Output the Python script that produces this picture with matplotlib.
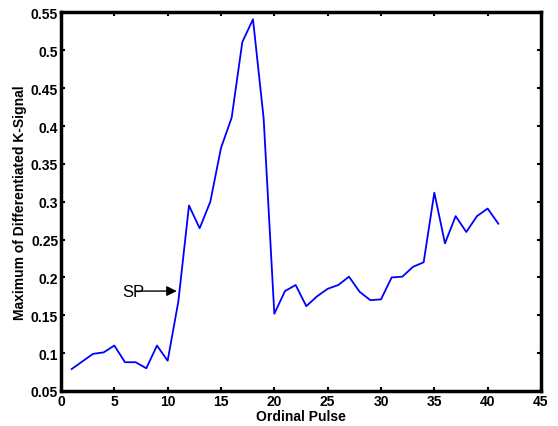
import matplotlib
matplotlib.use("Agg")
import matplotlib.pyplot as plt

# Maximum of differentiated K-signal per ordinal pulse
pulse = list(range(1, 42))
k_max = [0.079, 0.089, 0.099, 0.101, 0.110, 0.088, 0.088, 0.080, 0.110, 0.090,
         0.168, 0.295, 0.265, 0.300, 0.371, 0.411, 0.511, 0.541, 0.410, 0.152,
         0.182, 0.190, 0.162, 0.175, 0.185, 0.190, 0.201, 0.181, 0.170, 0.171,
         0.200, 0.201, 0.214, 0.220, 0.312, 0.245, 0.281, 0.260, 0.281, 0.291,
         0.271]

xticks = [0, 5, 10, 15, 20, 25, 30, 35, 40, 45]
yticks = [0.05, 0.1, 0.15, 0.2, 0.25, 0.3, 0.35, 0.4, 0.45, 0.5, 0.55]
ytick_labels = ["0.05", "0.1", "0.15", "0.2", "0.25", "0.3", "0.35", "0.4",
                "0.45", "0.5", "0.55"]

plt.rcParams['font.family'] = ['Liberation Sans', 'DejaVu Sans']

fig = plt.figure(figsize=(5.58, 4.27), dpi=100)
ax = fig.add_axes([0.1093, 0.082, 0.8602, 0.8864])

ax.plot(pulse, k_max, color='#0000ff', linewidth=1.3)

ax.set_xlim(0, 45)
ax.set_ylim(0.05, 0.55)
ax.set_xticks(xticks)
ax.set_yticks(yticks)
ax.set_yticklabels(ytick_labels)
ax.tick_params(direction='in', length=3, width=1.5, top=True, right=True,
               labelsize=10, pad=2)
for lbl in ax.get_xticklabels() + ax.get_yticklabels():
    lbl.set_fontweight('bold')
for sp in ax.spines.values():
    sp.set_linewidth(2.5)

ax.set_xlabel('Ordinal Pulse', fontsize=10, fontweight='bold', labelpad=1)
ax.set_ylabel('Maximum of Differentiated K-Signal', fontsize=10,
              fontweight='bold', labelpad=3)

# SP marker arrow
ax.annotate('', xy=(10.85, 0.182), xytext=(7.0, 0.182),
            arrowprops=dict(arrowstyle='-|>', color='black', lw=1,
                            mutation_scale=15, shrinkA=0, shrinkB=0))
ax.text(5.75, 0.182, 'SP', fontsize=12, va='center', ha='left')

fig.savefig('out.png', dpi=100)
